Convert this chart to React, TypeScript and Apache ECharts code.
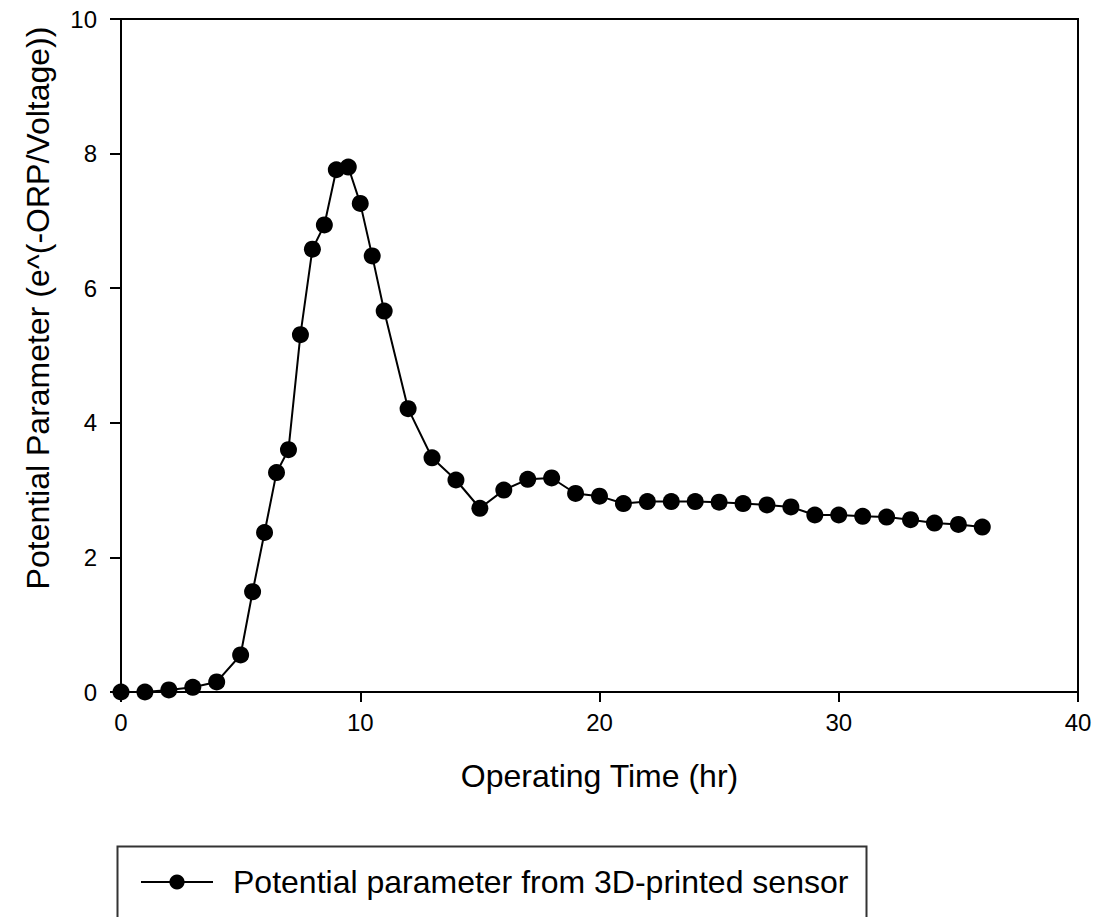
import React, { useEffect, useRef } from "react";
import * as echarts from "echarts";

const timeHr: number[] = [0, 1, 2, 3, 4, 5, 5.5, 6, 6.5, 7, 7.5, 8, 8.5, 9, 9.5, 10, 10.5, 11, 12, 13, 14, 15, 16, 17, 18, 19, 20, 21, 22, 23, 24, 25, 26, 27, 28, 29, 30, 31, 32, 33, 34, 35, 36];
const potential: number[] = [0, 0, 0.03, 0.07, 0.15, 0.55, 1.49, 2.37, 3.26, 3.6, 5.31, 6.58, 6.94, 7.76, 7.8, 7.26, 6.48, 5.66, 4.21, 3.48, 3.15, 2.73, 3.0, 3.16, 3.18, 2.95, 2.91, 2.8, 2.83, 2.83, 2.83, 2.82, 2.8, 2.78, 2.75, 2.63, 2.63, 2.61, 2.6, 2.56, 2.51, 2.49, 2.45];
const seriesName = "Potential parameter from 3D-printed sensor";
const xTitle = "Operating Time (hr)";
const yTitle = "Potential Parameter (e^(-ORP/Voltage))";

const FONT = "'Liberation Sans', Arial, sans-serif";

export default function App() {
  const ref = useRef<HTMLDivElement>(null);
  useEffect(() => {
    if (!ref.current) return;
    const chart = echarts.init(ref.current, undefined, { renderer: "svg" });
    const data = timeHr.map((t, i) => [t, potential[i]]);
    chart.setOption({
      animation: false,
      backgroundColor: "#ffffff",
      textStyle: { fontFamily: FONT, color: "#000" },
      grid: {
        left: 121,
        top: 19,
        width: 957,
        height: 673,
        show: true,
        borderColor: "#000",
        borderWidth: 2,
        backgroundColor: "transparent",
      },
      xAxis: {
        type: "value",
        min: 0,
        max: 40,
        interval: 10,
        name: xTitle,
        nameLocation: "middle",
        nameGap: 68,
        nameTextStyle: { fontSize: 32, fontFamily: FONT, color: "#000" },
        axisLine: { show: true, onZero: false, lineStyle: { color: "#000", width: 2 } },
        axisTick: { show: true, inside: false, length: 10, lineStyle: { color: "#000", width: 2 } },
        axisLabel: { fontSize: 24, fontFamily: FONT, color: "#000", margin: 18 },
        splitLine: { show: false },
      },
      yAxis: {
        type: "value",
        min: 0,
        max: 10,
        interval: 2,
        axisLine: { show: true, onZero: false, lineStyle: { color: "#000", width: 2 } },
        axisTick: { show: true, inside: false, length: 11, lineStyle: { color: "#000", width: 2 } },
        axisLabel: { fontSize: 24, fontFamily: FONT, color: "#000", margin: 24 },
        splitLine: { show: false },
      },
      legend: {
        left: 140,
        top: 866,
        padding: 0,
        itemWidth: 72,
        itemHeight: 19,
        itemGap: 10,
        textStyle: { fontSize: 32, fontFamily: FONT, color: "#000", lineHeight: 32, padding: [0, 0, 0, 15] },
        data: [seriesName],
      },
      graphic: [
        {
          type: "rect",
          left: 115,
          top: 844,
          shape: { x: 0, y: 0, width: 749, height: 120 },
          style: { fill: "none", stroke: "#333", lineWidth: 2 },
          z: -1,
        },
        {
          type: "text",
          x: 38,
          y: 308,
          rotation: Math.PI / 2,
          style: {
            text: yTitle,
            fontSize: 32,
            fontFamily: FONT,
            fill: "#000",
            align: "center",
            verticalAlign: "middle",
          },
        },
      ],
      series: [
        {
          name: seriesName,
          type: "line",
          data,
          symbol: "circle",
          symbolSize: 17,
          showSymbol: true,
          itemStyle: { color: "#000" },
          lineStyle: { color: "#000", width: 2 },
          z: 3,
        },
      ],
    });
    return () => chart.dispose();
  }, []);
  return (
    <div
      ref={ref}
      style={{ position: "absolute", left: 0, top: 0, width: 1099, height: 917, background: "#fff" }}
    />
  );
}
